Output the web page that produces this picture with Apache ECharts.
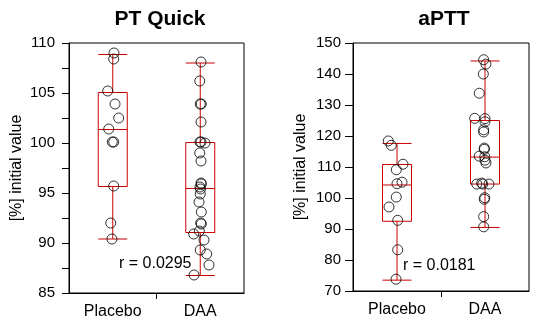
<!DOCTYPE html>
<html>
<head>
<meta charset="utf-8">
<script src="https://cdn.jsdelivr.net/npm/echarts@6/dist/echarts.min.js"></script>
<style>
  html, body { margin: 0; padding: 0; background: #fff; }
  #chart { width: 548px; height: 326px; }
</style>
</head>
<body>
<div id="chart"></div>
<script>
const groups = ['Placebo', 'DAA'];

// box stats [min, Q1, median, Q3, max]
const ptBox = [
  [90.4, 95.65, 101.35, 105.05, 108.85],
  [86.75, 91.05, 95.45, 100.05, 108.0]
];
const apttBox = [
  [73.5, 92.5, 104.2, 110.8, 117.6],
  [90.5, 104.5, 113.2, 125.0, 144.2]
];

// individual points: value and horizontal jitter (category units)
const ptPlacebo = [109.0, 108.4, 105.2, 103.9, 102.5, 101.4, 100.1, 100.1, 95.7, 92.0, 90.4];
const ptPlaceboJit = [0.014, 0.011, -0.058, 0.026, 0.068, -0.046, -0.005, 0.011, 0.011, -0.023, -0.009];
const ptDaa = [108.1, 106.2, 103.9, 103.9, 102.1, 100.1, 100.1, 100.0, 99.0, 98.2, 96.0, 95.9, 95.6, 95.4,
  94.9, 94.1, 93.1, 92.0, 91.9, 91.2, 90.9, 90.3, 89.3, 88.9, 87.8, 86.8];
const ptDaaJit = [0.009, -0.006, 0, 0.012, 0.009, -0.003, 0.009, 0.054, -0.006, 0.009, 0.009, 0.012, -0.003, 0.003,
  0, -0.014, 0.012, 0.005, 0.012, -0.011, -0.075, 0.043, 0, 0.074, 0.1, -0.071];

const apttPlacebo = [118.4, 117.0, 110.9, 109.1, 105.1, 104.6, 100.3, 97.1, 92.8, 83.3, 73.8];
const apttPlaceboJit = [-0.099, -0.065, 0.068, -0.008, 0.057, 0, -0.008, -0.091, 0.008, 0.008, -0.011];
const apttDaa = [144.6, 143.2, 140.0, 133.8, 125.7, 125.6, 124.6, 122.0, 121.3, 116.1, 115.7, 113.5, 113.3,
  112.2, 111.3, 104.5, 104.5, 104.5, 104.8, 100.1, 99.6, 94.0, 90.7];
const apttDaaJit = [-0.015, 0.011, -0.019, -0.065, -0.117, 0, 0, -0.015, -0.015, -0.008, -0.008, -0.065, -0.003,
  0, 0.011, -0.094, -0.026, 0.045, -0.038, -0.003, -0.008, -0.015, -0.015];

const titles = ['PT Quick', 'aPTT'];
const rTexts = ['r = 0.0295', 'r = 0.0181'];
const yName = '[%] initial value';

const FONT = 'Liberation Sans, Arial, sans-serif';
const RED = '#cc0000';

function pts(vals, jit, pos) {
  return vals.map((v, i) => [pos + jit[i], v]);
}

const chart = echarts.init(document.getElementById('chart'));

function yAxis(grid, min, max, interval, minor, tickLen, margin) {
  return {
    gridIndex: grid, type: 'value', min: min, max: max, interval: interval,
    name: yName, nameLocation: 'middle', nameGap: 44,
    nameTextStyle: { fontFamily: FONT, fontSize: 16, color: '#000' },
    axisLine: { show: true, lineStyle: { color: '#000', width: 1 } },
    axisTick: { show: true, length: tickLen, lineStyle: { color: '#000' } },
    minorTick: { show: minor, splitNumber: 2, length: tickLen, lineStyle: { color: '#000' } },
    axisLabel: { fontFamily: FONT, fontSize: 15, color: '#000', margin: margin },
    splitLine: { show: false }
  };
}

function catAxis(grid) {
  return {
    gridIndex: grid, type: 'category', data: groups,
    axisLine: { show: true, lineStyle: { color: '#000' } },
    axisTick: { show: false },
    axisLabel: { fontFamily: FONT, fontSize: 16, color: '#000', margin: 11 },
    splitLine: { show: false }
  };
}

function jitAxis(grid) {
  return {
    gridIndex: grid, type: 'value', min: 0.5, max: 2.5, position: 'bottom',
    axisLine: { show: false },
    axisTick: { show: true, customValues: [1.5], length: 6, lineStyle: { color: '#000' } },
    axisLabel: { show: false },
    splitLine: { show: false }
  };
}

function boxSeries(idx, data) {
  return {
    type: 'boxplot', xAxisIndex: idx, yAxisIndex: idx,
    data: data, boxWidth: [29, 29],
    itemStyle: { color: 'transparent', borderColor: RED, borderWidth: 1 },
    emphasis: { disabled: true },
    z: 2
  };
}

function dotSeries(idx, data) {
  return {
    type: 'scatter', xAxisIndex: idx + 2, yAxisIndex: idx,
    data: data, symbol: 'circle', symbolSize: 10,
    itemStyle: { color: 'rgba(0,0,0,0)', borderColor: '#000', borderWidth: 1 },
    emphasis: { disabled: true },
    z: 3
  };
}

chart.setOption({
  animation: false,
  title: [
    { text: titles[0], left: 155, top: 4, textAlign: 'center',
      textStyle: { fontFamily: FONT, fontSize: 21, fontWeight: 'bold', color: '#000' } },
    { text: titles[1], left: 439, top: 4, textAlign: 'center',
      textStyle: { fontFamily: FONT, fontSize: 21, fontWeight: 'bold', color: '#000' } }
  ],
  grid: [
    { left: 69, top: 43, width: 175, height: 250, show: true, borderColor: '#000', borderWidth: 1 },
    { left: 353, top: 43, width: 176, height: 248, show: true, borderColor: '#000', borderWidth: 1 }
  ],
  xAxis: [catAxis(0), catAxis(1), jitAxis(0), jitAxis(1)],
  yAxis: [
    yAxis(0, 85, 110, 5, true, 7, 14),
    yAxis(1, 70, 150, 10, false, 8, 12)
  ],
  graphic: [
    { type: 'text', left: 119, top: 256,
      style: { text: rTexts[0], font: '16px ' + FONT, fill: '#000' } },
    { type: 'text', left: 403, top: 258,
      style: { text: rTexts[1], font: '16px ' + FONT, fill: '#000' } }
  ],
  series: [
    boxSeries(0, ptBox),
    boxSeries(1, apttBox),
    dotSeries(0, pts(ptPlacebo, ptPlaceboJit, 1)),
    dotSeries(0, pts(ptDaa, ptDaaJit, 2)),
    dotSeries(1, pts(apttPlacebo, apttPlaceboJit, 1)),
    dotSeries(1, pts(apttDaa, apttDaaJit, 2))
  ]
});
</script>
</body>
</html>
